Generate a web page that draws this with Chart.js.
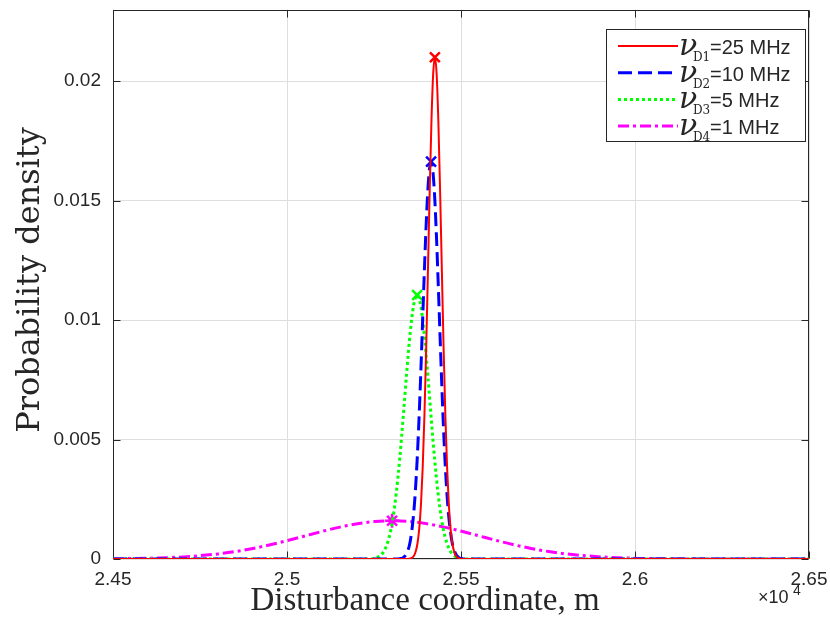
<!DOCTYPE html>
<html>
<head>
<meta charset="utf-8">
<script src="https://cdn.jsdelivr.net/npm/chart.js@4.4.1/dist/chart.umd.min.js"></script>
<style>
  body { margin: 0; background: #fff; }
  #wrap { width: 830px; height: 631px; }
</style>
</head>
<body>
<div id="wrap"><canvas id="pdfChart" width="830" height="631"></canvas></div>
<script>
// values (x in m, y = probability density)
const redX = [24500, 25345, 25355, 25365, 25370, 25375, 25380, 25385, 25390, 25395, 25400, 25405, 25410, 25415, 25420, 25425,
  25430, 25435, 25440, 25445, 25450, 25455, 25460, 25465, 25470, 25475, 25480, 25485, 25495, 25505, 26500];
const redY = [0, 0, 0.00002, 0.00014, 0.00032, 0.00066, 0.00127, 0.00229, 0.00385, 0.00604, 0.00884, 0.01207, 0.01538, 0.01828, 0.02029, 0.0210,
  0.02029, 0.01828, 0.01538, 0.01207, 0.00884, 0.00604, 0.00385, 0.00229, 0.00127, 0.00066, 0.00032, 0.00014, 0.00002, 0, 0];

const blueX = [24500, 25314, 25324, 25334, 25344, 25354, 25364, 25369, 25374, 25379, 25384, 25389, 25394, 25399, 25404, 25409, 25414,
  25419, 25424, 25429, 25434, 25439, 25444, 25449, 25454, 25459, 25464, 25474, 25484, 25494, 25504, 25514, 26500];
const blueY = [0, 0, 0.000015, 0.00006, 0.00024, 0.00073, 0.00190, 0.00287, 0.00415, 0.00574, 0.00761, 0.00967, 0.01175, 0.01368, 0.01525, 0.01627, 0.01663,
  0.01627, 0.01525, 0.01368, 0.01175, 0.00967, 0.00761, 0.00574, 0.00415, 0.00287, 0.00190, 0.00073, 0.00024, 0.00006, 0.000015, 0, 0];

const greenX = [24500, 25234, 25254, 25274, 25284, 25294, 25304, 25314, 25324, 25334, 25344, 25354, 25364, 25374,
  25384, 25394, 25404, 25414, 25424, 25434, 25444, 25454, 25464, 25474, 25494, 25514, 26500];
const greenY = [0, 0, 0.00004, 0.00023, 0.00049, 0.00094, 0.00167, 0.00276, 0.00421, 0.00596, 0.00781, 0.00947, 0.01063, 0.01105,
  0.01063, 0.00947, 0.00781, 0.00596, 0.00421, 0.00276, 0.00167, 0.00094, 0.00049, 0.00023, 0.00004, 0, 0];

const magentaX = [24500, 24602, 24702, 24802, 24852, 24902, 24952, 25002, 25052, 25102, 25152, 25202, 25252, 25302,
  25352, 25402, 25452, 25502, 25552, 25602, 25652, 25702, 25752, 25802, 25902, 26002, 26102, 26300, 26500];
const magentaY = [0.000009, 0.000031, 0.000088, 0.000213, 0.000312, 0.00044, 0.000596, 0.000774, 0.000967, 0.001159, 0.001335, 0.001476, 0.001568, 0.0016,
  0.001568, 0.001476, 0.001335, 0.001159, 0.000967, 0.000774, 0.000596, 0.00044, 0.000312, 0.000213, 0.000088, 0.000031, 0.000009, 0, 0];

const peakX = [25425, 25414, 25374, 25302];
const peakY = [0.0210, 0.01663, 0.01105, 0.0016];

const xTickValues = [24500, 25000, 25500, 26000, 26500];
const yTickValues = [0, 0.005, 0.01, 0.015, 0.02];
const legendSub = ["D1", "D2", "D3", "D4"];
const legendVal = ["=25 MHz", "=10 MHz", "=5 MHz", "=1 MHz"];

const colors = ["#ff0000", "#0000ff", "#00ff00", "#ff00ff"];
const dashes = [[], [14, 6], [3, 3], [11, 4, 3, 4]];
const widths = [2, 3, 3, 3];
const markers = ["crossRot", "crossRot", "crossRot", "star"];

const toPts = (xs, ys) => xs.map((x, i) => ({ x, y: ys[i] }));
const curves = [[redX, redY], [blueX, blueY], [greenX, greenY], [magentaX, magentaY]];

const datasets = curves.map((c, i) => ({
  data: toPts(c[0], c[1]),
  borderColor: colors[i],
  borderWidth: widths[i],
  borderDash: dashes[i],
  pointRadius: 0,
  fill: false,
  cubicInterpolationMode: "monotone"
}));
peakX.forEach((px, i) => {
  datasets.push({
    data: [{ x: px, y: peakY[i] }],
    showLine: false,
    pointStyle: markers[i],
    pointRadius: 7,
    borderColor: colors[i],
    backgroundColor: colors[i],
    pointBorderWidth: 2.5
  });
});

const axisColor = "#262626";

const decor = {
  id: "decor",
  beforeDatasetsDraw(chart) {
    const { ctx, chartArea: a, scales: { x, y } } = chart;
    ctx.save();
    ctx.strokeStyle = axisColor;
    ctx.lineWidth = 1;
    const L = Math.round(a.left) + 0.5, R = Math.round(a.right) - 0.5;
    const T = Math.round(a.top) + 0.5, B = Math.round(a.bottom) - 0.5;
    ctx.strokeRect(L, T, R - L, B - T);
    ctx.beginPath();
    xTickValues.forEach(v => {
      const px = Math.round(x.getPixelForValue(v)) + 0.5;
      ctx.moveTo(px, B); ctx.lineTo(px, B - 7);
      ctx.moveTo(px, T); ctx.lineTo(px, T + 7);
    });
    yTickValues.forEach(v => {
      const py = Math.round(y.getPixelForValue(v)) + 0.5;
      ctx.moveTo(L, py); ctx.lineTo(L + 7, py);
      ctx.moveTo(R, py); ctx.lineTo(R - 7, py);
    });
    ctx.stroke();
    ctx.restore();
  },
  afterDraw(chart) {
    const { ctx } = chart;
    ctx.save();
    // axis titles
    ctx.fillStyle = axisColor;
    ctx.textAlign = "center";
    ctx.textBaseline = "alphabetic";
    ctx.font = '33px "Liberation Serif"';
    ctx.fillText("Disturbance coordinate, m", 425, 610);
    ctx.save();
    ctx.translate(39, 280);
    ctx.rotate(-Math.PI / 2);
    ctx.font = '32px "DejaVu Serif"';
    ctx.fillText("Probability density", 0, 0);
    ctx.restore();
    // exponent
    ctx.textAlign = "left";
    ctx.font = '18px "Liberation Sans"';
    ctx.fillText("\u00d710", 758, 603);
    ctx.font = '14px "Liberation Sans"';
    ctx.fillText("4", 793, 595);

    // legend
    const lx = 606, ly = 29, lw = 199, lh = 112;
    ctx.fillStyle = "#fff";
    ctx.fillRect(lx, ly, lw, lh);
    ctx.strokeStyle = axisColor;
    ctx.lineWidth = 1;
    ctx.strokeRect(lx + 0.5, ly + 0.5, lw, lh);
    for (let i = 0; i < 4; i++) {
      const ds = chart.data.datasets[i];
      const yy = 46 + i * 26.7;
      ctx.beginPath();
      ctx.strokeStyle = ds.borderColor;
      ctx.lineWidth = ds.borderWidth;
      ctx.setLineDash(ds.borderDash);
      ctx.moveTo(618, yy);
      ctx.lineTo(678, yy);
      ctx.stroke();
      ctx.setLineDash([]);
      ctx.fillStyle = axisColor;
      ctx.font = 'italic 30px "DejaVu Serif"';
      ctx.fillText("\u03bd", 679, yy + 9);
      ctx.font = '12px "DejaVu Serif"';
      ctx.fillText(legendSub[i], 693, yy + 15);
      ctx.font = '20px "Liberation Sans"';
      ctx.fillText(legendVal[i], 710, yy + 8);
    }
    ctx.restore();
  }
};

const zeroPad = s => { s.paddingTop = 0; s.paddingBottom = 0; s.paddingLeft = 0; s.paddingRight = 0; };

new Chart(document.getElementById("pdfChart"), {
  type: "line",
  data: { datasets },
  options: {
    responsive: false,
    animation: false,
    devicePixelRatio: 1,
    layout: { padding: { left: 0, top: 9, right: 21, bottom: 0 } },
    plugins: { legend: { display: false }, tooltip: { enabled: false } },
    scales: {
      x: {
        type: "linear",
        min: 24500,
        max: 26500,
        afterBuildTicks: s => { s.ticks = xTickValues.map(v => ({ value: v })); },
        afterFit: s => { s.height = 72; zeroPad(s); },
        grid: { color: "#dedede", drawTicks: false },
        border: { display: false },
        ticks: {
          padding: 9,
          maxRotation: 0,
          color: axisColor,
          font: { family: "Liberation Sans", size: 19 },
          callback: v => String(v / 1e4)
        }
      },
      y: {
        type: "linear",
        min: 0,
        max: 0.023,
        afterBuildTicks: s => { s.ticks = yTickValues.map(v => ({ value: v })); },
        afterFit: s => { s.width = 113; zeroPad(s); },
        grid: { color: "#dedede", drawTicks: false },
        border: { display: false },
        ticks: {
          padding: 12,
          color: axisColor,
          font: { family: "Liberation Sans", size: 19 },
          callback: v => String(v)
        }
      }
    }
  },
  plugins: [decor]
});
</script>
</body>
</html>
